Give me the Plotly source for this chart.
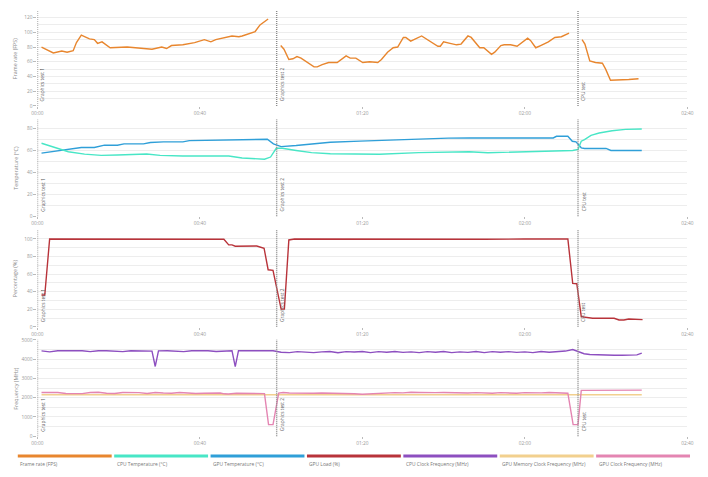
import plotly.graph_objects as go

W, H = 708, 477

# ---------------- data ----------------
tick_vals = [0, 40, 80, 120, 160]
tick_text = ["00:00", "00:40", "01:20", "02:00", "02:40"]

marker_t = [0, 58.9, 133.1]
marker_names = ["Graphics test 1", "Graphics test 2", "CPU test"]

fps_seg1_t = [1.0, 3.9, 6.0, 7.3, 8.8, 9.6, 10.8, 12.8, 14.0, 14.8, 15.9, 17.9, 22.1, 26.1, 28.2,
              30.6, 31.8, 33.0, 35.8, 38.7, 41.1, 42.7, 43.9, 47.9, 49.6, 50.4, 53.6, 54.8, 56.8]
fps_seg1_v = [80, 72, 74.5, 73, 75, 86, 96, 91, 90, 85, 87, 79, 80, 78, 77,
              80, 78, 82, 83, 86, 90, 87, 90, 95, 94, 95, 101, 110, 118]
fps_seg2_t = [59.9, 60.7, 61.9, 62.9, 63.9, 64.9, 68.1, 68.9, 70.1, 71.7, 73.8, 74.6,
              76.0, 77.0, 78.4, 80.1, 81.8, 83.8, 84.7, 86.2, 87.6, 88.7, 90.1, 90.7,
              91.9, 94.6, 96.5, 98.6, 99.2, 100.0, 101.6, 103.2, 104.3, 106.0, 106.8, 108.3,
              108.9, 109.9, 111.8, 112.6, 114.1, 114.9, 116.5, 118.1, 120.7, 121.4, 122.7, 123.9,
              125.8, 127.4, 129.0, 130.9]
fps_seg2_v = [82, 77, 63, 64, 67, 65, 53, 53, 56, 59, 59, 62,
              68, 65, 65, 59, 60, 59, 63, 73, 79, 80, 93, 93,
              88, 95, 88, 81, 81, 87, 85, 83, 84, 95, 93, 82,
              79, 79, 70, 73, 82, 83, 83, 81, 92, 89, 79, 82,
              87, 93, 94, 99]
fps_seg3_t = [134.1, 134.8, 136.0, 137.4, 139.1, 139.9, 141.1, 143.6, 145.6, 148.0]
fps_seg3_v = [90, 84, 61, 59, 58, 50, 35, 35, 36, 37]

gpu_temp_t = [1.0, 6.0, 10.8, 14.0, 16.5, 19.7, 21.3, 26.1, 27.8, 31.0, 35.8, 37.4, 48.7, 49.6,
              56.6, 58.1, 60.0, 63.7, 67.3, 72.1, 79.4, 86.7, 93.9, 101.2, 106.3, 127.0, 127.8,
              130.6, 131.7, 132.6, 133.9, 134.7, 140.0, 141.2, 148.8]
gpu_temp_v = [57.6, 60.3, 62.7, 62.7, 64.8, 64.8, 66, 66, 67.2, 67.8, 67.8, 69, 69.6, 70.2,
              70.2, 66, 63.5, 64.5, 66, 67.5, 68.5, 69.5, 70.5, 71.2, 71.4, 71.4, 72.9,
              72.9, 68.4, 67.8, 62.4, 61.8, 61.8, 60, 60]

cpu_temp_t = [1.0, 4.4, 7.6, 11.6, 15.7, 19.7, 26.9, 30.2, 35.8, 47.1, 50.4, 55.9, 57.4, 58.8,
              60.3, 63.7, 67.5, 72.1, 84.2, 93.9, 106.3, 110.9, 122.2, 131.8, 133.1, 133.9,
              134.7, 136.3, 138.3, 141.5, 144.8, 148.8]
cpu_temp_v = [66.6, 62.4, 58.8, 56.7, 55.5, 55.8, 56.7, 55.5, 54.9, 54.9, 53.1, 52, 54, 62,
              62, 60, 58, 57, 56.5, 58, 58.8, 57.9, 59.4, 60, 60.9, 68.4,
              69.9, 73.8, 75.9, 78, 79.2, 79.5]

gpu_load_t = [1.0, 1.8, 3.0, 15, 30, 45.9, 47.1, 47.9, 48.7, 54.0, 55.8, 56.8, 58.0, 60.0, 60.8,
              61.9, 63.3, 80, 95, 110, 120, 130.6, 131.8, 132.8, 133.9, 134.7, 136.7, 142.0,
              143.2, 144.4, 145.6, 149.0]
gpu_load_v = [36.3, 36.3, 100, 99.8, 100, 99.7, 93.3, 93.3, 91.8, 92, 89.5, 65, 64.4, 20.2, 20.2,
              98.9, 100, 99.6, 100, 99.7, 100, 100, 49.4, 49.1, 11.6, 10.9, 9.8, 9.8,
              7.9, 7.9, 9, 8.2]

cpu_clk_t = [1, 3, 5, 7, 9, 11, 13, 15, 17, 19, 21, 23, 25, 27, 28.2, 29.0, 29.8,
             32, 34, 36, 38, 40, 42, 44, 46, 47.9, 48.7, 49.5,
             52, 54, 56, 58, 60, 62, 64, 66, 68, 70, 72, 74, 76, 78, 80, 82, 84, 86, 88, 90,
             92, 94, 96, 98, 100, 102, 104, 106, 108, 110, 112, 114, 116, 118, 120, 122, 124,
             126, 128, 130, 131.8, 133.2, 134.6, 136, 138, 140, 142, 144, 146, 147.6, 148.8]
cpu_clk_v = [4430, 4380, 4440, 4440, 4440, 4440, 4390, 4440, 4440, 4430, 4390, 4440, 4420, 4430,
             4420, 3620, 4430,
             4440, 4420, 4390, 4440, 4440, 4440, 4400, 4440, 4440, 3610, 4440,
             4440, 4440, 4440, 4440, 4360, 4340, 4390, 4380, 4340, 4380, 4400, 4330, 4390, 4370,
             4400, 4340, 4390, 4360, 4400, 4350, 4380, 4340, 4390, 4360, 4400, 4340, 4380, 4350,
             4400, 4340, 4390, 4360, 4390, 4350, 4380, 4340, 4400, 4360, 4390, 4420,
             4500, 4380, 4280, 4240, 4220, 4200, 4200, 4200, 4210, 4220, 4310]

gpu_mem_t = [1, 40, 80, 120, 148.8]
gpu_mem_v = [2150, 2150, 2150, 2150, 2150]

gpu_clk_t = [1, 3, 5, 7, 9, 11, 13, 15, 17, 19, 21, 23, 25, 27, 29, 31, 33, 35, 37, 39, 41, 43, 45,
             46, 47, 49, 51, 53, 55, 55.9, 56.9, 58.0, 59.4, 60.5,
             62, 64, 66, 68, 70, 72, 74, 76, 78, 80, 82, 84, 86, 88, 90, 92, 94, 96, 98, 100,
             102, 104, 106, 108, 110, 112, 114, 116, 118, 120, 122, 124, 126, 128,
             130.6, 131.9, 133.1, 133.9, 136, 140, 144, 148.8]
gpu_clk_v = [2270, 2280, 2270, 2220, 2230, 2210, 2270, 2280, 2230, 2220, 2270, 2270, 2260, 2220,
             2270, 2240, 2230, 2270, 2230, 2220, 2230, 2230, 2240,
             2200, 2190, 2230, 2230, 2230, 2230, 2210, 600, 600, 2240, 2270,
             2240, 2230, 2240, 2230, 2240, 2230, 2250, 2220, 2200, 2180, 2200, 2240, 2230, 2260,
             2250, 2280, 2270, 2250, 2260, 2270, 2250, 2230, 2240, 2260, 2250, 2230, 2260, 2240,
             2230, 2260, 2240, 2250, 2270, 2250,
             2230, 600, 600, 2380, 2380, 2390, 2390, 2390]

series_names = ["Frame rate (FPS)", "CPU Temperature (°C)", "GPU Temperature (°C)", "GPU Load (%)",
                "CPU Clock Frequency (MHz)", "GPU Memory Clock Frequency (MHz)", "GPU Clock Frequency (MHz)"]
series_colors = ["#e8862e", "#48e6c6", "#2f9fd8", "#b8333a", "#8d4fc0", "#f2d08e", "#e485b2"]

panel_titles = ["Frame rate (FPS)", "Temperature (°C)", "Percentage (%)", "Frequency (MHz)"]

# ---------------- layout geometry ----------------
FONT = "Open Sans"
px_left, px_right = 32, 693
panels = [  # (top px, bottom px, y range max, label dtick, minor dtick)
    (8, 104.3, 129, 20, 10),
    (118, 216, 88.2, 20, 10),
    (230, 328, 110.1, 20, 10),
    (341, 438.7, 5010, 1000, 500),
]

def py(p):
    return 1 - p / H

fig = go.Figure()

fps_t = fps_seg1_t + [None] + fps_seg2_t + [None] + fps_seg3_t
fps_v = fps_seg1_v + [None] + fps_seg2_v + [None] + fps_seg3_v

traces = [
    (fps_t, fps_v, 0, 0),
    (gpu_temp_t, gpu_temp_v, 2, 1),
    (cpu_temp_t, cpu_temp_v, 1, 1),
    (gpu_load_t, gpu_load_v, 3, 2),
    (gpu_mem_t, gpu_mem_v, 5, 3),
    (gpu_clk_t, gpu_clk_v, 6, 3),
    (cpu_clk_t, cpu_clk_v, 4, 3),
]
for tx, ty, si, pi in traces:
    sfx = "" if pi == 0 else str(pi + 1)
    fig.add_trace(go.Scatter(
        x=tx, y=ty, mode="lines", name=series_names[si],
        line=dict(color=series_colors[si], width=1.4),
        xaxis="x" + sfx, yaxis="y" + sfx, showlegend=False, connectgaps=False,
    ))

layout = dict(
    width=W, height=H, margin=dict(l=0, r=0, t=0, b=0),
    paper_bgcolor="white", plot_bgcolor="white",
    font=dict(family=FONT, color="#888"),
    showlegend=False,
)
shapes = []
annotations = []
for i, (top, bot, ymax, dt, mdt) in enumerate(panels):
    sfx = "" if i == 0 else str(i + 1)
    layout["xaxis" + sfx] = dict(
        domain=[px_left / W, px_right / W], anchor="y" + sfx, range=[0, 160],
        tickvals=tick_vals, ticktext=tick_text, showgrid=False, zeroline=False,
        ticks="outside", ticklen=2, tickcolor="#bbb", tickfont=dict(size=4.8, color="#999"),
        showline=False,
    )
    layout["yaxis" + sfx] = dict(
        domain=[py(bot), py(top)], anchor="x" + sfx, range=[0, ymax],
        dtick=dt, tick0=0, showgrid=True, gridcolor="#ededed", gridwidth=1,
        minor=dict(dtick=mdt, showgrid=True, gridcolor="#ededed", gridwidth=1),
        zeroline=False, ticks="outside", ticklen=3, tickcolor="#bbb",
        tickfont=dict(size=4.8, color="#999"), tickformat="d", showline=False,
    )
    # y title
    annotations.append(dict(
        text=panel_titles[i], xref="paper", yref="paper", x=10 / W, y=py((top + bot) / 2),
        textangle=-90, showarrow=False, font=dict(size=5.4, color="#888"),
        xanchor="center", yanchor="middle",
    ))
    for mt, mn in zip(marker_t, marker_names):
        shapes.append(dict(
            type="line", xref="x" + sfx, yref="y" + sfx + " domain", x0=mt, x1=mt, y0=0, y1=1,
            line=dict(color="#8a8a8a", width=1.4, dash="1px,1px"), layer="above",
        ))
        annotations.append(dict(
            text=mn, xref="x" + sfx, yref="y" + sfx + " domain", x=mt, y=0,
            xanchor="left", yanchor="bottom", textangle=-90, showarrow=False,
            xshift=0.5, yshift=3, font=dict(size=4.8, color="#555"),
        ))

# custom legend along the bottom
leg_x0, leg_pitch, leg_w = 12, 98.05, 95.5
for k, (nm, col) in enumerate(zip(series_names, series_colors)):
    x0 = leg_x0 + k * leg_pitch
    shapes.append(dict(
        type="line", xref="paper", yref="paper", x0=x0 / W, x1=(x0 + leg_w) / W,
        y0=py(458.8), y1=py(458.8), line=dict(color=col, width=3),
    ))
    annotations.append(dict(
        text=nm, xref="paper", yref="paper", x=(x0 + 0.5) / W, y=py(466.5),
        xanchor="left", yanchor="middle", showarrow=False, font=dict(size=4.9, color="#777"),
    ))

layout["shapes"] = shapes
layout["annotations"] = annotations
fig.update_layout(**layout)
fig.write_html("out.html")
